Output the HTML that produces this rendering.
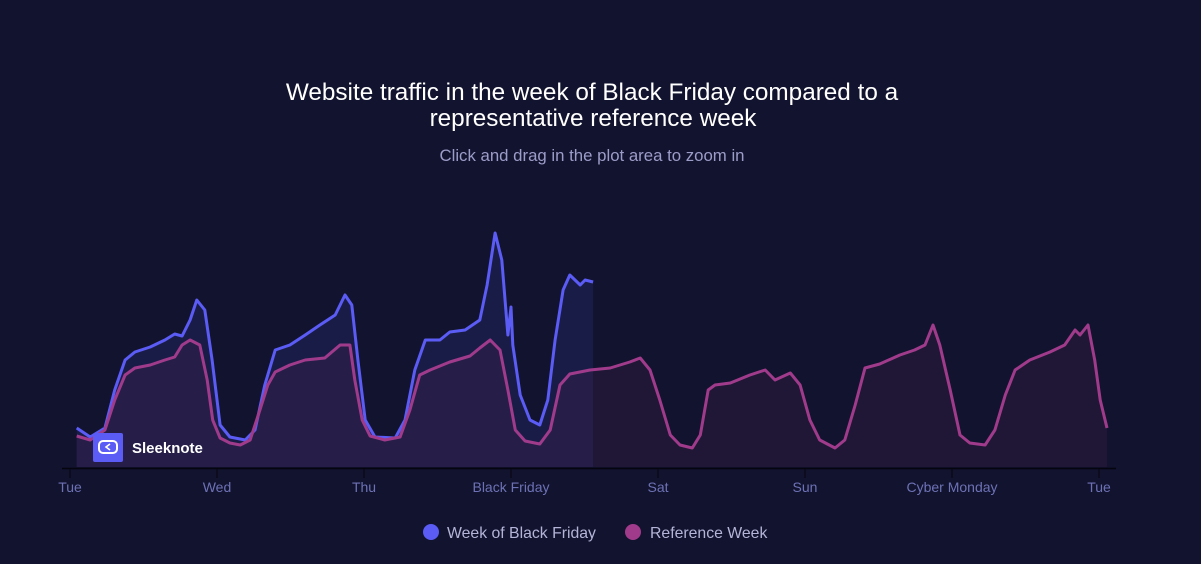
<!DOCTYPE html>
<html><head><meta charset="utf-8"><style>
html,body{margin:0;padding:0;background:#12132e;}
svg{display:block;font-family:"Liberation Sans","DejaVu Sans",sans-serif;}
</style></head><body>
<svg id="chart" width="1201" height="564" viewBox="0 0 1201 564">
<rect x="0" y="0" width="1201" height="564" fill="#12132e"/>
<text x="592" y="100" text-anchor="middle" fill="#ffffff" font-size="24.3">Website traffic in the week of Black Friday compared to a</text>
<text x="593" y="126" text-anchor="middle" fill="#ffffff" font-size="24.3">representative reference week</text>
<text x="592" y="161" text-anchor="middle" fill="#9c9cc9" font-size="16.8">Click and drag in the plot area to zoom in</text>
<g id="plot"></g>
<g id="axis"></g>
<g>
<rect x="93" y="433" width="30" height="29" rx="2" fill="#5a5cf5"/>
<rect x="99" y="441" width="18" height="12" rx="4" fill="none" stroke="#fff" stroke-width="2"/>
<path d="M110 444 L106 447 L110 450" fill="none" stroke="#fff" stroke-width="1.6"/>
<text x="132" y="453" fill="#ffffff" font-size="15" font-weight="bold">Sleeknote</text>
</g>
<g>
<g>
<circle cx="431" cy="532" r="8" fill="#5a5cf5"/>
<text x="447" y="538" fill="#b4b4d8" font-size="15.8">Week of Black Friday</text>
</g>
<g>
<circle cx="633" cy="532" r="8" fill="#a03b8c"/>
<text x="650" y="538" fill="#b4b4d8" font-size="15.8">Reference Week</text>
</g>
</g>
</svg>
<script>
const refHours=[1.1,3.3,5.7,7.3,9.0,10.6,13.1,15.5,17.1,18.3,19.6,21.2,22.4,23.3,24.5,26.1,27.8,29.4,31.0,32.3,33.5,35.9,38.4,41.6,44.1,45.7,46.5,47.7,49.0,51.4,53.9,55.5,57.1,58.8,62.0,65.3,66.9,68.6,70.2,71.5,72.7,74.3,76.7,78.4,80.0,81.6,84.9,88.2,91.4,93.1,94.7,96.3,98.0,99.6,101.6,102.9,104.2,105.3,107.8,111.0,113.5,115.1,117.6,119.2,120.8,122.4,124.9,126.5,128.2,129.8,132.2,135.5,137.9,139.6,140.9,142.0,143.7,145.3,146.9,149.4,151.0,152.7,154.3,156.7,160.0,162.4,164.1,164.9,166.2,167.3,168.2,169.3];
const refValues=[31,27,37,67,92,99,102,107,110,122,127,122,87,47,29,24,22,27,57,82,95,102,107,109,122,122,87,47,31,27,30,57,92,97,105,111,119,127,117,77,37,26,23,37,82,93,97,99,105,109,97,67,32,22,19,32,77,82,84,92,97,87,94,82,47,27,19,27,62,99,103,112,117,122,142,122,77,32,24,22,37,72,97,107,115,122,137,132,142,107,67,39];
const bfHours=[1.1,3.3,5.7,7.3,9.0,10.6,13.1,15.5,17.1,18.3,19.6,20.7,22.0,23.2,24.5,26.1,28.6,30.2,31.8,33.5,35.9,38.4,40.8,43.3,44.9,46.0,47.0,48.2,49.8,53.1,54.7,56.3,58.0,60.4,62.0,64.5,66.9,68.1,69.4,70.5,71.5,72.0,72.3,73.5,75.1,76.7,78.0,79.2,80.5,81.6,83.3,84.1,85.4];
const bfValues=[39,30,39,77,107,115,120,127,133,131,147,167,157,107,42,30,27,37,82,117,122,132,142,152,172,162,107,47,30,29,47,97,127,127,135,137,147,182,234,207,132,160,122,72,47,42,67,127,177,192,182,187,185];
const tickLabels=["Tue","Wed","Thu","Black Friday","Sat","Sun","Cyber Monday","Tue"];
const tickHours=[0,24,48,72,96,120,144,168];

const NS="http://www.w3.org/2000/svg";
const X0=70,PXH=147/24,BASE=467;
const xs=h=>X0+h*PXH;
const ys=v=>BASE-v;
const plot=document.getElementById('plot'),axis=document.getElementById('axis');
function mk(tag,attrs,parent){const e=document.createElementNS(NS,tag);for(const k in attrs)e.setAttribute(k,attrs[k]);parent.appendChild(e);return e;}
function linePath(H,V){return H.map((h,i)=>(i?'L':'M')+xs(h).toFixed(1)+' '+ys(V[i]).toFixed(1)).join(' ');}
function areaPath(H,V){return linePath(H,V)+' L'+xs(H[H.length-1]).toFixed(1)+' '+BASE+' L'+xs(H[0]).toFixed(1)+' '+BASE+' Z';}
const endBF=xs(bfHours[bfHours.length-1]);
const refArea=mk('path',{d:areaPath(refHours,refValues),fill:'#1f1735'},plot);


const bfArea=mk('path',{d:areaPath(bfHours,bfValues),fill:'#1a1c48'},plot);


const cp=mk('clipPath',{id:'leftclip'},plot);
mk('rect',{x:0,y:0,width:endBF,height:564},cp);
const refAreaL=mk('path',{d:areaPath(refHours,refValues),fill:'#261e48','clip-path':'url(#leftclip)'},plot);


const bfLine=mk('path',{d:linePath(bfHours,bfValues),fill:'none',stroke:'#5a5cf5','stroke-width':3,'stroke-linejoin':'round'},plot);


const refLine=mk('path',{d:linePath(refHours,refValues),fill:'none',stroke:'#a03b8c','stroke-width':3,'stroke-linejoin':'round'},plot);


const ax=mk('line',{x1:62,x2:1116,y1:468.5,y2:468.5,stroke:'#05050f','stroke-width':1.5},axis);


tickHours.forEach((h,i)=>{
  const x=xs(h);
  const t=mk('line',{x1:x,x2:x,y1:468,y2:478,stroke:'#05050f','stroke-width':1},axis);
  
  
  const l=mk('text',{x:x,y:492,'text-anchor':'middle',fill:'#6d72b6','font-size':14},axis);
  l.textContent=tickLabels[i];
  
  
});
</script>
</body></html>
